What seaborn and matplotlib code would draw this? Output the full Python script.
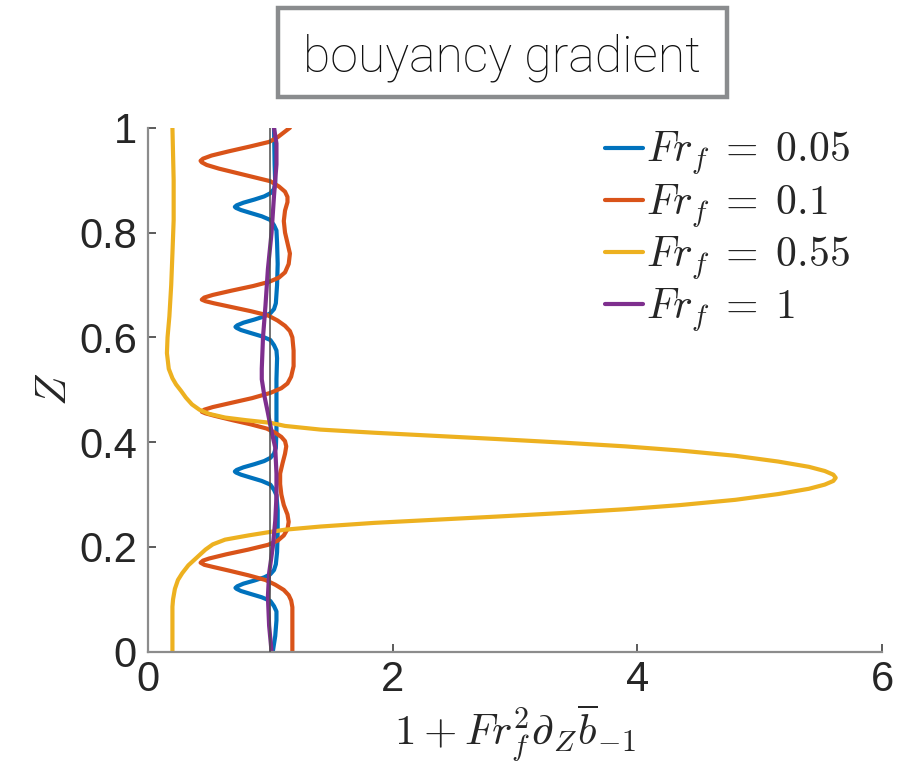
import matplotlib
matplotlib.use("Agg")
import matplotlib.pyplot as plt
from matplotlib.lines import Line2D
from matplotlib.patches import Rectangle
import pandas as pd
import seaborn as sns

# Vertical profiles of the buoyancy-gradient term, one per Froude number
z_005 = [0.000, 0.030, 0.060, 0.077, 0.087, 0.097, 0.104, 0.111, 0.116, 0.120, 0.122, 0.125,
         0.130, 0.136, 0.142, 0.148, 0.156, 0.167, 0.190, 0.230, 0.270, 0.299, 0.309, 0.319,
         0.326, 0.333, 0.338, 0.342, 0.344, 0.347, 0.352, 0.358, 0.364, 0.370, 0.378, 0.389,
         0.420, 0.470, 0.520, 0.560, 0.575, 0.585, 0.595, 0.602, 0.609, 0.614, 0.618, 0.620,
         0.623, 0.628, 0.634, 0.640, 0.646, 0.654, 0.665, 0.700, 0.740, 0.780, 0.804, 0.814,
         0.824, 0.831, 0.838, 0.843, 0.847, 0.849, 0.852, 0.857, 0.863, 0.869, 0.875, 0.883,
         0.894, 0.930, 1.000]
v_005 = [1.02, 1.04, 1.05, 1.05, 1.03, 1.00, 0.93, 0.83, 0.76, 0.725, 0.715, 0.73,
         0.78, 0.87, 0.95, 1.00, 1.03, 1.045, 1.055, 1.06, 1.06, 1.05, 1.03, 1.00,
         0.93, 0.83, 0.76, 0.72, 0.71, 0.725, 0.78, 0.87, 0.95, 1.00, 1.03, 1.045,
         1.05, 1.05, 1.05, 1.055, 1.05, 1.03, 1.00, 0.93, 0.83, 0.76, 0.725, 0.715,
         0.73, 0.78, 0.87, 0.95, 1.00, 1.03, 1.045, 1.055, 1.06, 1.055, 1.05, 1.03,
         1.00, 0.93, 0.83, 0.76, 0.72, 0.71, 0.725, 0.78, 0.87, 0.95, 1.00, 1.03,
         1.04, 1.035, 1.03]

z_01 = [0.000, 0.050, 0.085, 0.098, 0.108, 0.118, 0.128, 0.137, 0.146, 0.155, 0.162, 0.166,
        0.170, 0.174, 0.178, 0.186, 0.195, 0.204, 0.212, 0.222, 0.234, 0.248, 0.262, 0.280,
        0.300, 0.320, 0.340, 0.360, 0.378, 0.392, 0.402, 0.410, 0.418, 0.426, 0.434, 0.442,
        0.450, 0.455, 0.458, 0.462, 0.467, 0.475, 0.484, 0.494, 0.503, 0.512, 0.525, 0.545,
        0.575, 0.600, 0.612, 0.622, 0.632, 0.642, 0.650, 0.658, 0.665, 0.669, 0.672, 0.676,
        0.681, 0.689, 0.698, 0.706, 0.714, 0.724, 0.740, 0.760, 0.780, 0.800, 0.822, 0.842,
        0.858, 0.868, 0.878, 0.888, 0.898, 0.906, 0.914, 0.922, 0.929, 0.934, 0.937, 0.941,
        0.947, 0.955, 0.964, 0.973, 0.982, 0.991, 1.000]
v_01 = [1.18, 1.18, 1.18, 1.17, 1.15, 1.11, 1.04, 0.96, 0.82, 0.66, 0.53, 0.46,
        0.43, 0.45, 0.50, 0.64, 0.82, 0.98, 1.06, 1.11, 1.14, 1.15, 1.14, 1.11,
        1.09, 1.08, 1.08, 1.10, 1.12, 1.13, 1.12, 1.09, 1.04, 0.97, 0.84, 0.69,
        0.55, 0.47, 0.44, 0.46, 0.53, 0.68, 0.85, 1.00, 1.09, 1.14, 1.17, 1.19,
        1.19, 1.18, 1.16, 1.12, 1.06, 0.98, 0.84, 0.68, 0.54, 0.47, 0.44, 0.46,
        0.53, 0.68, 0.86, 0.99, 1.07, 1.12, 1.15, 1.16, 1.14, 1.12, 1.11, 1.12,
        1.14, 1.14, 1.12, 1.07, 1.00, 0.86, 0.72, 0.58, 0.48, 0.44, 0.43, 0.45,
        0.52, 0.66, 0.83, 0.99, 1.06, 1.11, 1.16]

z_055 = [0.000, 0.040, 0.086, 0.100, 0.120, 0.137, 0.150, 0.165, 0.180, 0.195, 0.205, 0.214,
         0.222, 0.228, 0.233, 0.239, 0.246, 0.252, 0.258, 0.265, 0.272, 0.280, 0.290, 0.301,
         0.311, 0.319, 0.326, 0.332, 0.338, 0.345, 0.353, 0.363, 0.374, 0.384, 0.392, 0.399,
         0.406, 0.412, 0.418, 0.424, 0.431, 0.437, 0.442, 0.447, 0.454, 0.462, 0.472, 0.485,
         0.498, 0.510, 0.522, 0.540, 0.570, 0.600, 0.640, 0.700, 0.760, 0.824, 0.900, 1.000]
v_055 = [0.20, 0.20, 0.20, 0.205, 0.22, 0.245, 0.28, 0.33, 0.40, 0.47, 0.53, 0.63,
         0.82, 0.98, 1.12, 1.41, 1.85, 2.35, 2.85, 3.40, 3.90, 4.35, 4.80, 5.15,
         5.40, 5.53, 5.60, 5.62, 5.60, 5.53, 5.40, 5.15, 4.80, 4.35, 3.90, 3.40,
         2.85, 2.35, 1.85, 1.41, 1.12, 1.00, 0.80, 0.63, 0.50, 0.42, 0.36, 0.31,
         0.27, 0.23, 0.20, 0.17, 0.155, 0.16, 0.175, 0.19, 0.20, 0.21, 0.21, 0.20]

z_1 = [0.00, 0.05, 0.105, 0.15, 0.20, 0.25, 0.296, 0.34, 0.39, 0.42, 0.456, 0.49,
       0.52, 0.54, 0.60, 0.66, 0.73, 0.80, 0.87, 0.93, 0.97, 1.00]
v_1 = [1.01, 0.99, 0.98, 0.99, 1.02, 1.04, 1.05, 1.05, 1.04, 1.01, 0.98, 0.95,
       0.93, 0.93, 0.94, 0.96, 0.98, 1.01, 1.03, 1.05, 1.05, 1.03]

labels = [r"$Fr_f\;=\;0.05$", r"$Fr_f\;=\;0.1$", r"$Fr_f\;=\;0.55$", r"$Fr_f\;=\;1$"]
colors = ["#0072BD", "#D95319", "#EDB120", "#7E2F8E"]

frames = []
for lab, zz, vv in zip(labels, [z_005, z_01, z_055, z_1], [v_005, v_01, v_055, v_1]):
    frames.append(pd.DataFrame({"Z": zz, "val": vv, "series": lab}))
df = pd.concat(frames, ignore_index=True)

sns.set_style("ticks")
plt.rcParams["mathtext.fontset"] = "cm"
plt.rcParams["font.family"] = ["Liberation Sans", "DejaVu Sans"]

fig = plt.figure(figsize=(9.19, 7.65), dpi=100)
ax = fig.add_axes([0.161, 0.148, 0.799, 0.685])

ax.axvline(1.0, color="#4d4d4d", lw=1.1, zorder=5)

sns.lineplot(data=df, x="val", y="Z", hue="series", hue_order=labels,
             palette=dict(zip(labels, colors)), orient="y", estimator=None,
             sort=True, lw=3.0, legend=False, ax=ax)
for ln in ax.get_lines():
    ln.set_solid_joinstyle("round")
    ln.set_solid_capstyle("round")

ax.set_xlim(0, 6)
ax.set_ylim(0, 1)
ax.set_xticks([0, 2, 4, 6])
ax.set_xticklabels(["0", "2", "4", "6"])
ax.set_yticks([0, 0.2, 0.4, 0.6, 0.8, 1.0])
ax.set_yticklabels(["0", "0.2", "0.4", "0.6", "0.8", "1"])

for side in ["top", "right"]:
    ax.spines[side].set_visible(False)
for side in ["left", "bottom"]:
    ax.spines[side].set_color("#8c8c8c")
    ax.spines[side].set_linewidth(1.6)

ax.tick_params(axis="both", direction="in", length=6, width=1.2,
               color="#404040", labelsize=30, labelcolor="#262626")
ax.tick_params(axis="x", pad=6)
ax.tick_params(axis="y", pad=8)

ax.set_xlabel(r"$1+Fr_f^2\partial_Z\overline{b}_{-1}$", fontsize=31,
              color="#262626", labelpad=2)
ax.set_ylabel(r"$Z$", fontsize=31, color="#262626", labelpad=3)

handles = [Line2D([], [], color=c, lw=3.0) for c in colors]
ax.legend(handles, labels, loc="upper left", bbox_to_anchor=(605 / 919, 1 - 130 / 765),
          bbox_transform=fig.transFigure, frameon=False, fontsize=30,
          handlelength=0.9, handletextpad=0.08, labelspacing=0.11, borderpad=0,
          borderaxespad=0)

# Boxed heading above the axes
fig.add_artist(Rectangle((278 / 919, 1 - 97 / 765), 449 / 919, 89 / 765,
                         transform=fig.transFigure, facecolor="white",
                         edgecolor="#8a8c8e", lw=3.2))
fig.text(502 / 919, 1 - 71 / 765, "bouyancy gradient", ha="center", va="baseline",
         fontsize=36, color="#111111", family="Roboto", fontweight="light")

fig.savefig("out.png", dpi=100)
